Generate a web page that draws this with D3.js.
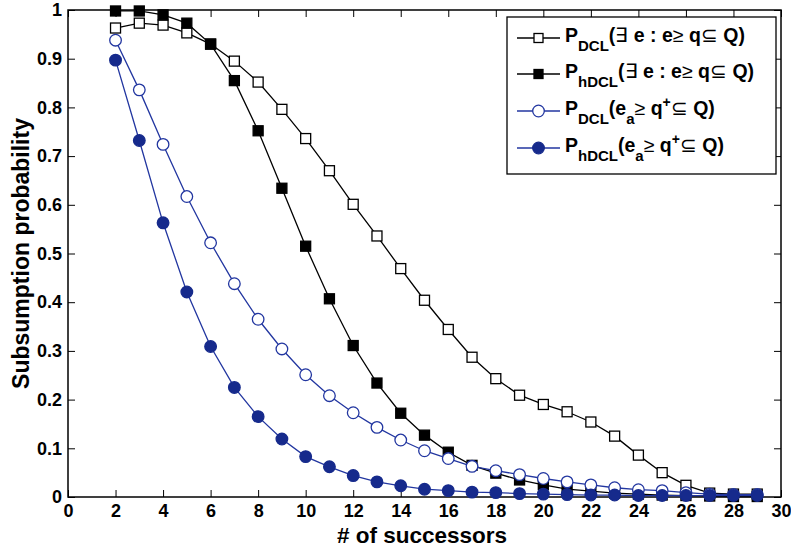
<!DOCTYPE html>
<html>
<head>
<meta charset="utf-8">
<script src="https://cdn.jsdelivr.net/npm/d3@7"></script>
<style>
  html, body { margin: 0; padding: 0; background: #fff; }
  svg { display: block; font-family: "Liberation Sans", Arial, sans-serif; }
</style>
</head>
<body>
<svg id="chart" width="791" height="548"></svg>
<script>
// Number of successors on the x axis
const successors = d3.range(2, 30);

// Subsumption probability for each estimator
const pDclExists = [0.963, 0.973, 0.969, 0.953, 0.930, 0.895, 0.852, 0.796, 0.736, 0.670, 0.601, 0.536, 0.469, 0.404,
  0.344, 0.287, 0.243, 0.209, 0.190, 0.175, 0.154, 0.125, 0.086, 0.050, 0.024, 0.008, 0.006, 0.006];
const pHdclExists = [0.998, 0.998, 0.990, 0.973, 0.930, 0.855, 0.752, 0.634, 0.515, 0.407, 0.311, 0.234, 0.172, 0.127,
  0.092, 0.065, 0.049, 0.035, 0.025, 0.016, 0.012, 0.008, 0.006, 0.004, 0.003, 0.002, 0.001, 0.001];
const pDclEa = [0.938, 0.836, 0.724, 0.617, 0.522, 0.438, 0.365, 0.304, 0.251, 0.208, 0.173, 0.143, 0.117, 0.095,
  0.079, 0.063, 0.054, 0.046, 0.038, 0.031, 0.025, 0.019, 0.015, 0.013, 0.009, 0.006, 0.005, 0.005];
const pHdclEa = [0.897, 0.732, 0.563, 0.421, 0.309, 0.225, 0.165, 0.119, 0.083, 0.062, 0.044, 0.031, 0.023, 0.016,
  0.013, 0.010, 0.009, 0.007, 0.006, 0.005, 0.004, 0.004, 0.003, 0.003, 0.003, 0.003, 0.003, 0.003];

const xTicks = d3.range(0, 31, 2);
const yTicks = d3.range(0, 11).map(d => d / 10);
const yTickLabels = ["0", "0.1", "0.2", "0.3", "0.4", "0.5", "0.6", "0.7", "0.8", "0.9", "1"];

const blueLine = "#2236a0";
const blueFill = "#162a8c";

const series = [
  { values: pDclExists, marker: "square", fill: "#fff", stroke: "#000", line: "#000",
    sub: "DCL", kind: "exists" },
  { values: pHdclExists, marker: "square", fill: "#000", stroke: "#000", line: "#000",
    sub: "hDCL", kind: "exists" },
  { values: pDclEa, marker: "circle", fill: "#fff", stroke: blueLine, line: blueLine,
    sub: "DCL", kind: "ea" },
  { values: pHdclEa, marker: "circle", fill: blueFill, stroke: blueFill, line: blueLine,
    sub: "hDCL", kind: "ea" }
];

const svg = d3.select("#chart");
const plot = { left: 68, right: 781, top: 10, bottom: 497 };

const x = d3.scaleLinear().domain([0, 30]).range([plot.left, plot.right]);
const y = d3.scaleLinear().domain([0, 1]).range([plot.bottom, plot.top]);

// Axes with inward ticks on all four sides (box style)
const tickLen = 7;
const gx = svg.append("g").attr("transform", `translate(0,${plot.bottom})`)
  .call(d3.axisBottom(x).tickValues(xTicks).tickSize(-tickLen).tickPadding(7).tickFormat(d3.format("d")));
const gy = svg.append("g").attr("transform", `translate(${plot.left},0)`)
  .call(d3.axisLeft(y).tickValues(yTicks).tickSize(-tickLen).tickPadding(6)
    .tickFormat((d, i) => yTickLabels[i]));
const gxt = svg.append("g").attr("transform", `translate(0,${plot.top})`)
  .call(d3.axisTop(x).tickValues(xTicks).tickSize(-tickLen).tickFormat(""));
const gyr = svg.append("g").attr("transform", `translate(${plot.right},0)`)
  .call(d3.axisRight(y).tickValues(yTicks).tickSize(-tickLen).tickFormat(""));

[gx, gy, gxt, gyr].forEach(g => {
  g.select(".domain").remove();
  g.selectAll(".tick line").attr("stroke", "#000").attr("stroke-width", 1);
  g.selectAll(".tick text").attr("fill", "#000").attr("font-size", 18).attr("font-weight", "bold")
    .attr("font-family", "Liberation Sans, Arial, sans-serif");
});
gx.selectAll(".tick text").attr("dy", "0.72em");

svg.append("rect").attr("x", plot.left).attr("y", plot.top)
  .attr("width", plot.right - plot.left).attr("height", plot.bottom - plot.top)
  .attr("fill", "none").attr("stroke", "#000").attr("stroke-width", 1.5);

// Axis titles
svg.append("text").attr("x", 422).attr("y", 543)
  .attr("text-anchor", "middle").attr("font-size", 22.5).attr("font-weight", "bold")
  .text("# of successors");
svg.append("text").attr("transform", `translate(29,${(plot.top + plot.bottom) / 2}) rotate(-90)`)
  .attr("text-anchor", "middle").attr("font-size", 23).attr("font-weight", "bold")
  .text("Subsumption probability");

const line = d3.line().x((d, i) => x(successors[i])).y(d => y(d));

function drawMarker(g, s, cx, cy, half, r) {
  if (s.marker === "square") {
    g.append("rect").attr("x", cx - half).attr("y", cy - half).attr("width", 2 * half).attr("height", 2 * half)
      .attr("fill", s.fill).attr("stroke", s.stroke).attr("stroke-width", 1.3);
  } else {
    g.append("circle").attr("cx", cx).attr("cy", cy).attr("r", r)
      .attr("fill", s.fill).attr("stroke", s.stroke).attr("stroke-width", 1.3);
  }
}

series.forEach(s => {
  const g = svg.append("g");
  g.append("path").datum(s.values).attr("d", line)
    .attr("fill", "none").attr("stroke", s.line).attr("stroke-width", 1.3);
  s.values.forEach((v, i) => drawMarker(g, s, x(successors[i]), y(v), 5, 5.8));
});

// Legend
const lg = svg.append("g");
lg.append("rect").attr("x", 507).attr("y", 17).attr("width", 269).attr("height", 157)
  .attr("fill", "#fff").attr("stroke", "#000").attr("stroke-width", 1.3);
const rowY = [38, 74, 111, 148];
series.forEach((s, i) => {
  const yy = rowY[i];
  lg.append("line").attr("x1", 517).attr("x2", 560).attr("y1", yy).attr("y2", yy)
    .attr("stroke", s.line).attr("stroke-width", 1.3);
  drawMarker(lg, s, 538.5, yy, 4.5, 5.8);
  const t = lg.append("text").attr("x", 565).attr("y", yy + 4)
    .attr("font-size", 19.5).attr("font-weight", "bold").attr("fill", "#000");
  t.append("tspan").text("P");
  t.append("tspan").attr("font-size", 15).attr("dy", 9).text(s.sub);
  if (s.kind === "exists") {
    t.append("tspan").attr("dy", -9).text("(");
    t.append("tspan").attr("font-weight", "normal").text("\u2203");
    t.append("tspan").text(" e : e");
    t.append("tspan").attr("font-weight", "normal").text("\u2265");
    t.append("tspan").text(" q");
    t.append("tspan").attr("font-weight", "normal").text("\u2286");
    t.append("tspan").text(" Q)");
  } else {
    t.append("tspan").attr("dy", -9).text("(e");
    t.append("tspan").attr("font-size", 15).attr("dy", 9).text("a");
    t.append("tspan").attr("dy", -9).attr("font-weight", "normal").text("\u2265");
    t.append("tspan").text(" q");
    t.append("tspan").attr("font-size", 14).attr("dy", -8).text("+");
    t.append("tspan").attr("dy", 8).attr("font-weight", "normal").text("\u2286");
    t.append("tspan").text(" Q)");
  }
});
</script>
</body>
</html>
